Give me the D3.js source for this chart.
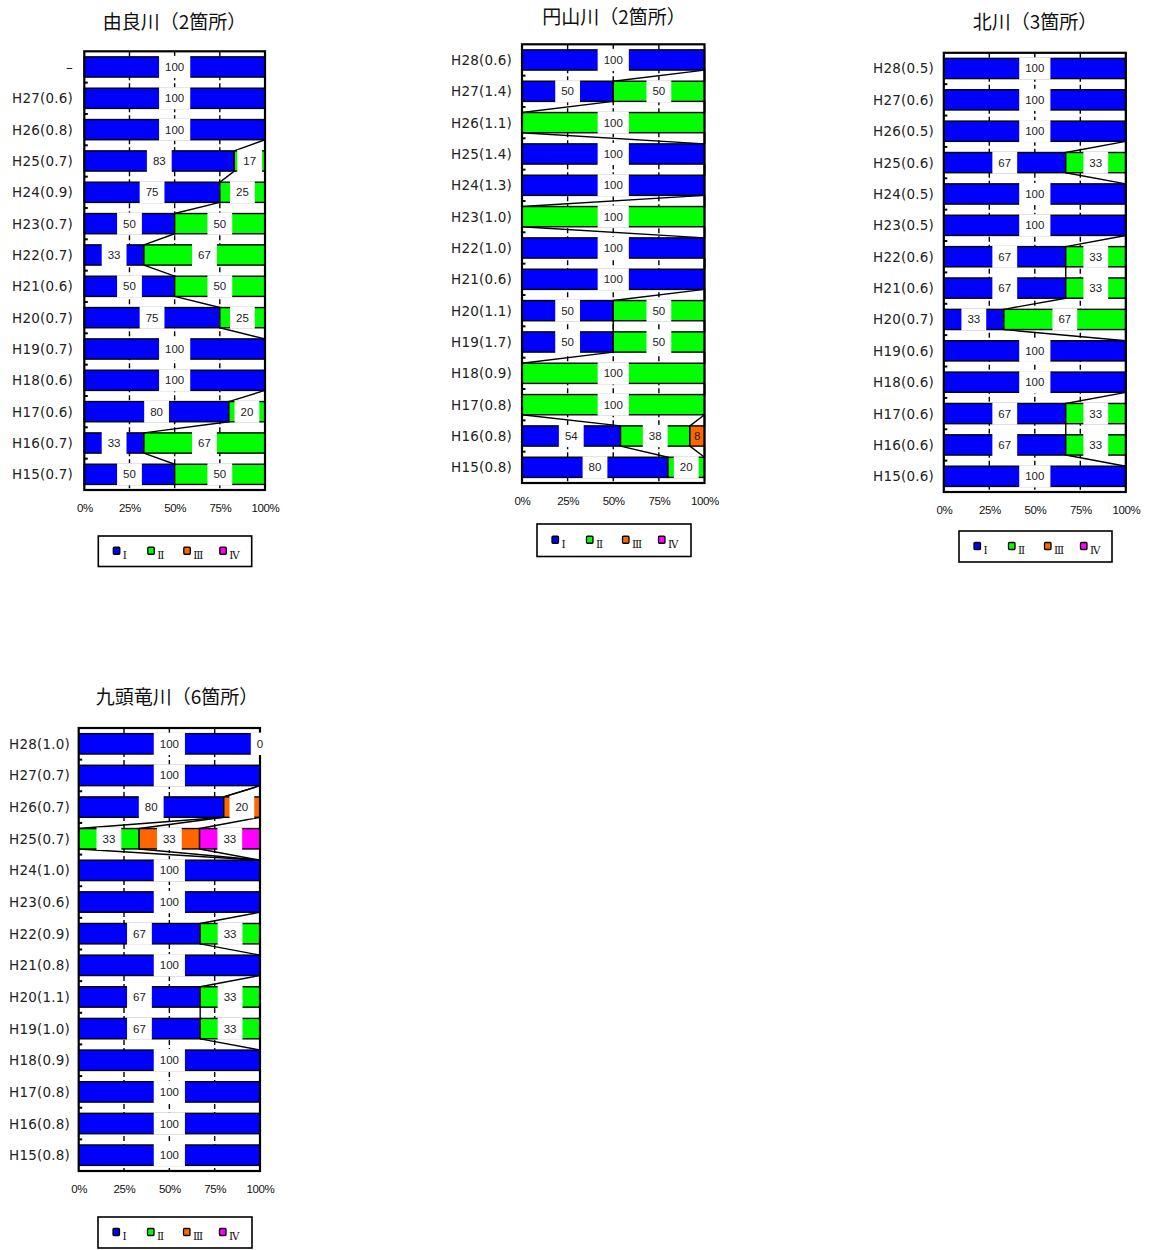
<!DOCTYPE html>
<html><head><meta charset="utf-8">
<script src="https://cdn.jsdelivr.net/npm/d3@7"></script>
<style>body{margin:0;background:#fff}</style>
</head><body>
<svg id="c" width="1152" height="1250" xmlns="http://www.w3.org/2000/svg"></svg>
<script>
// ---- shared ----
const seriesNames = ["Ⅰ", "Ⅱ", "Ⅲ", "Ⅳ"];
const seriesColors = ["#0000FF", "#00FF00", "#FF6600", "#FF00FF"];
const axisTickValues = [0, 25, 50, 75, 100];
const axisTickLabels = ["0%", "25%", "50%", "75%", "100%"];

// ---- 由良川 ----
const yuraTitle = "由良川（2箇所）";
const yuraCategories = ["–", "H27(0.6)", "H26(0.8)", "H25(0.7)", "H24(0.9)", "H23(0.7)", "H22(0.7)", "H21(0.6)", "H20(0.7)", "H19(0.7)", "H18(0.6)", "H17(0.6)", "H16(0.7)", "H15(0.7)"];
const yuraI   = [100, 100, 100, 83, 75, 50, 33, 50, 75, 100, 100, 80, 33, 50];
const yuraII  = [null, null, null, 17, 25, 50, 67, 50, 25, null, null, 20, 67, 50];
const yuraIII = [null, null, null, null, null, null, null, null, null, null, null, null, null, null];
const yuraIV  = [null, null, null, null, null, null, null, null, null, null, null, null, null, null];

// ---- 円山川 ----
const maruyamaTitle = "円山川（2箇所）";
const maruyamaCategories = ["H28(0.6)", "H27(1.4)", "H26(1.1)", "H25(1.4)", "H24(1.3)", "H23(1.0)", "H22(1.0)", "H21(0.6)", "H20(1.1)", "H19(1.7)", "H18(0.9)", "H17(0.8)", "H16(0.8)", "H15(0.8)"];
const maruyamaI   = [100, 50, null, 100, 100, null, 100, 100, 50, 50, null, null, 54, 80];
const maruyamaII  = [null, 50, 100, null, null, 100, null, null, 50, 50, 100, 100, 38, 20];
const maruyamaIII = [null, null, null, null, null, null, null, null, null, null, null, null, 8, null];
const maruyamaIV  = [null, null, null, null, null, null, null, null, null, null, null, null, null, null];

// ---- 北川 ----
const kitaTitle = "北川（3箇所）";
const kitaCategories = ["H28(0.5)", "H27(0.6)", "H26(0.5)", "H25(0.6)", "H24(0.5)", "H23(0.5)", "H22(0.6)", "H21(0.6)", "H20(0.7)", "H19(0.6)", "H18(0.6)", "H17(0.6)", "H16(0.6)", "H15(0.6)"];
const kitaI   = [100, 100, 100, 67, 100, 100, 67, 67, 33, 100, 100, 67, 67, 100];
const kitaII  = [null, null, null, 33, null, null, 33, 33, 67, null, null, 33, 33, null];
const kitaIII = [null, null, null, null, null, null, null, null, null, null, null, null, null, null];
const kitaIV  = [null, null, null, null, null, null, null, null, null, null, null, null, null, null];

// ---- 九頭竜川 ----
const kuzuryuTitle = "九頭竜川（6箇所）";
const kuzuryuCategories = ["H28(1.0)", "H27(0.7)", "H26(0.7)", "H25(0.7)", "H24(1.0)", "H23(0.6)", "H22(0.9)", "H21(0.8)", "H20(1.1)", "H19(1.0)", "H18(0.9)", "H17(0.8)", "H16(0.8)", "H15(0.8)"];
const kuzuryuI   = [100, 100, 80, null, 100, 100, 67, 100, 67, 67, 100, 100, 100, 100];
const kuzuryuII  = [0, null, null, 33, null, null, 33, null, 33, 33, null, null, null, null];
const kuzuryuIII = [null, null, 20, 33, null, null, null, null, null, null, null, null, null, null];
const kuzuryuIV  = [null, null, null, 33, null, null, null, null, null, null, null, null, null, null];

// ---- layout (positions only) ----
const charts = [
  { title: yuraTitle, categories: yuraCategories, series: [yuraI, yuraII, yuraIII, yuraIV],
    x0: 84.3, x1: 265, y0: 51.3, y1: 490, titleX: 174.5, titleY: 20.5, catX: 73,
    legend: { x: 98.3, y: 536, w: 153.4, h: 30.5 }, plain: [] },
  { title: maruyamaTitle, categories: maruyamaCategories, series: [maruyamaI, maruyamaII, maruyamaIII, maruyamaIV],
    x0: 522, x1: 704.5, y0: 44.3, y1: 483, titleX: 614, titleY: 15.5, catX: 512,
    legend: { x: 537, y: 524, w: 154, h: 32.5 }, plain: ["H16(0.8)|2"] },
  { title: kitaTitle, categories: kitaCategories, series: [kitaI, kitaII, kitaIII, kitaIV],
    x0: 943.8, x1: 1125.8, y0: 52.8, y1: 492, titleX: 1035, titleY: 20.8, catX: 934,
    legend: { x: 959, y: 531, w: 153, h: 31 }, plain: [] },
  { title: kuzuryuTitle, categories: kuzuryuCategories, series: [kuzuryuI, kuzuryuII, kuzuryuIII, kuzuryuIV],
    x0: 78.7, x1: 260, y0: 728, y1: 1171, titleX: 177, titleY: 695.8, catX: 70,
    legend: { x: 98, y: 1217, w: 154, h: 31 }, plain: [] }
];

const svg = d3.select("#c");
const GAP = 1 - 1 / 1.55;

function drawChart(cfg) {
  const g = svg.append("g");
  const x = d3.scaleLinear().domain([0, 100]).range([cfg.x0, cfg.x1]);
  const y = d3.scaleBand().domain(cfg.categories).range([cfg.y0, cfg.y1])
    .paddingInner(GAP).paddingOuter(GAP / 2);
  const bw = y.bandwidth();
  const step = y.step();

  const rows = cfg.categories.map((c, i) => {
    const vals = cfg.series.map(s => s[i]);
    const total = d3.sum(vals, v => v || 0);
    let cum = 0;
    const segs = vals.map((v, k) => {
      const p = (v == null || total === 0) ? 0 : v / total * 100;
      const s = { cat: c, k, v, start: cum, end: cum + p };
      cum += p;
      return s;
    });
    return { cat: c, segs };
  });

  // title
  g.append("text").attr("x", cfg.titleX).attr("y", cfg.titleY)
    .attr("text-anchor", "middle").attr("dominant-baseline", "central")
    .attr("font-family", "'Noto Sans CJK JP', sans-serif").attr("font-size", 19)
    .attr("fill", "#111").text(cfg.title);

  // gridlines
  g.append("g").selectAll("line").data([25, 50, 75]).join("line")
    .attr("x1", d => x(d)).attr("x2", d => x(d))
    .attr("y1", cfg.y0).attr("y2", cfg.y1)
    .attr("stroke", "#000").attr("stroke-width", 1.4).attr("stroke-dasharray", "5,3");

  // series lines
  const links = [];
  for (let i = 0; i < rows.length - 1; i++) {
    for (let k = 0; k < cfg.series.length; k++) {
      links.push({ a: rows[i].segs[k].end, ya: y(rows[i].cat) + bw, b: rows[i + 1].segs[k].end, yb: y(rows[i + 1].cat) });
    }
  }
  g.append("g").selectAll("line").data(links).join("line")
    .attr("x1", d => x(d.a)).attr("y1", d => d.ya)
    .attr("x2", d => x(d.b)).attr("y2", d => d.yb)
    .attr("stroke", "#000").attr("stroke-width", 1.4);

  // bars
  const segsAll = rows.flatMap(r => r.segs).filter(s => s.v != null && s.end - s.start > 0);
  g.append("g").selectAll("rect").data(segsAll).join("rect")
    .attr("x", d => x(d.start)).attr("width", d => x(d.end) - x(d.start))
    .attr("y", d => y(d.cat)).attr("height", bw)
    .attr("fill", d => seriesColors[d.k]).attr("stroke", "#000").attr("stroke-width", 1.4);

  // plot border
  g.append("rect").attr("x", cfg.x0).attr("y", cfg.y0)
    .attr("width", cfg.x1 - cfg.x0).attr("height", cfg.y1 - cfg.y0)
    .attr("fill", "none").attr("stroke", "#000").attr("stroke-width", 2.2);

  // category tick marks (inward)
  g.append("g").selectAll("line").data(d3.range(1, cfg.categories.length)).join("line")
    .attr("x1", cfg.x0).attr("x2", cfg.x0 + 3.5)
    .attr("y1", d => cfg.y0 + d * step).attr("y2", d => cfg.y0 + d * step)
    .attr("stroke", "#000").attr("stroke-width", 2);

  // category labels
  g.append("g").selectAll("text").data(cfg.categories).join("text")
    .attr("x", cfg.catX).attr("y", d => y(d) + bw / 2)
    .attr("text-anchor", "end").attr("dominant-baseline", "central")
    .attr("font-family", "'DejaVu Sans', sans-serif").attr("font-size", 13.5)
    .attr("letter-spacing", 0.2).attr("fill", "#222").text(d => d);

  // value axis
  const ax = g.append("g").attr("transform", `translate(0,${cfg.y1})`)
    .call(d3.axisBottom(x).tickValues(axisTickValues)
      .tickFormat((d, i) => axisTickLabels[i]).tickSize(0));
  ax.select(".domain").remove();
  ax.selectAll("text").attr("y", 18).attr("dy", "0.35em")
    .attr("font-family", "'Liberation Sans', sans-serif").attr("font-size", 11.5)
    .attr("letter-spacing", -0.4).attr("fill", "#111");

  // data labels
  const labelSegs = rows.flatMap(r => r.segs).filter(s => s.v != null);
  const lg = g.append("g");
  labelSegs.forEach(s => {
    const cx = x((s.start + s.end) / 2);
    const cy = y(s.cat) + bw / 2;
    const plain = cfg.plain.includes(s.cat + "|" + s.k);
    const box = lg.append("rect");
    const t = lg.append("text").attr("x", cx).attr("y", cy)
      .attr("text-anchor", "middle").attr("dominant-baseline", "central")
      .attr("font-family", "'Liberation Sans', sans-serif").attr("font-size", 11.5)
      .attr("fill", "#222").text(s.v);
    const w = t.node().getComputedTextLength() + 12;
    box.attr("x", cx - w / 2).attr("y", y(s.cat) - 1).attr("width", w).attr("height", bw + 2)
      .attr("fill", plain ? "none" : "#fff");
  });

  // legend
  const L = cfg.legend;
  const leg = g.append("g").attr("transform", `translate(${L.x},${L.y})`);
  leg.append("rect").attr("width", L.w).attr("height", L.h)
    .attr("fill", "#fff").attr("stroke", "#000").attr("stroke-width", 1.6);
  const offs = [15, 49.5, 85.5, 121.5];
  const items = leg.selectAll("g.item").data(seriesNames).join("g").attr("class", "item")
    .attr("transform", (d, i) => `translate(${offs[i]},${L.h / 2 - 4})`);
  items.append("rect").attr("width", 6.5).attr("height", 7).attr("rx", 1)
    .attr("fill", (d, i) => seriesColors[i]).attr("stroke", "#000").attr("stroke-width", 1.3);
  items.append("text").attr("x", 9.5).attr("y", 11.5)
    .attr("font-family", "'DejaVu Serif', serif").attr("font-size", 10.5)
    .attr("fill", "#111").text(d => d);
}

charts.forEach(drawChart);
</script>
</body></html>
